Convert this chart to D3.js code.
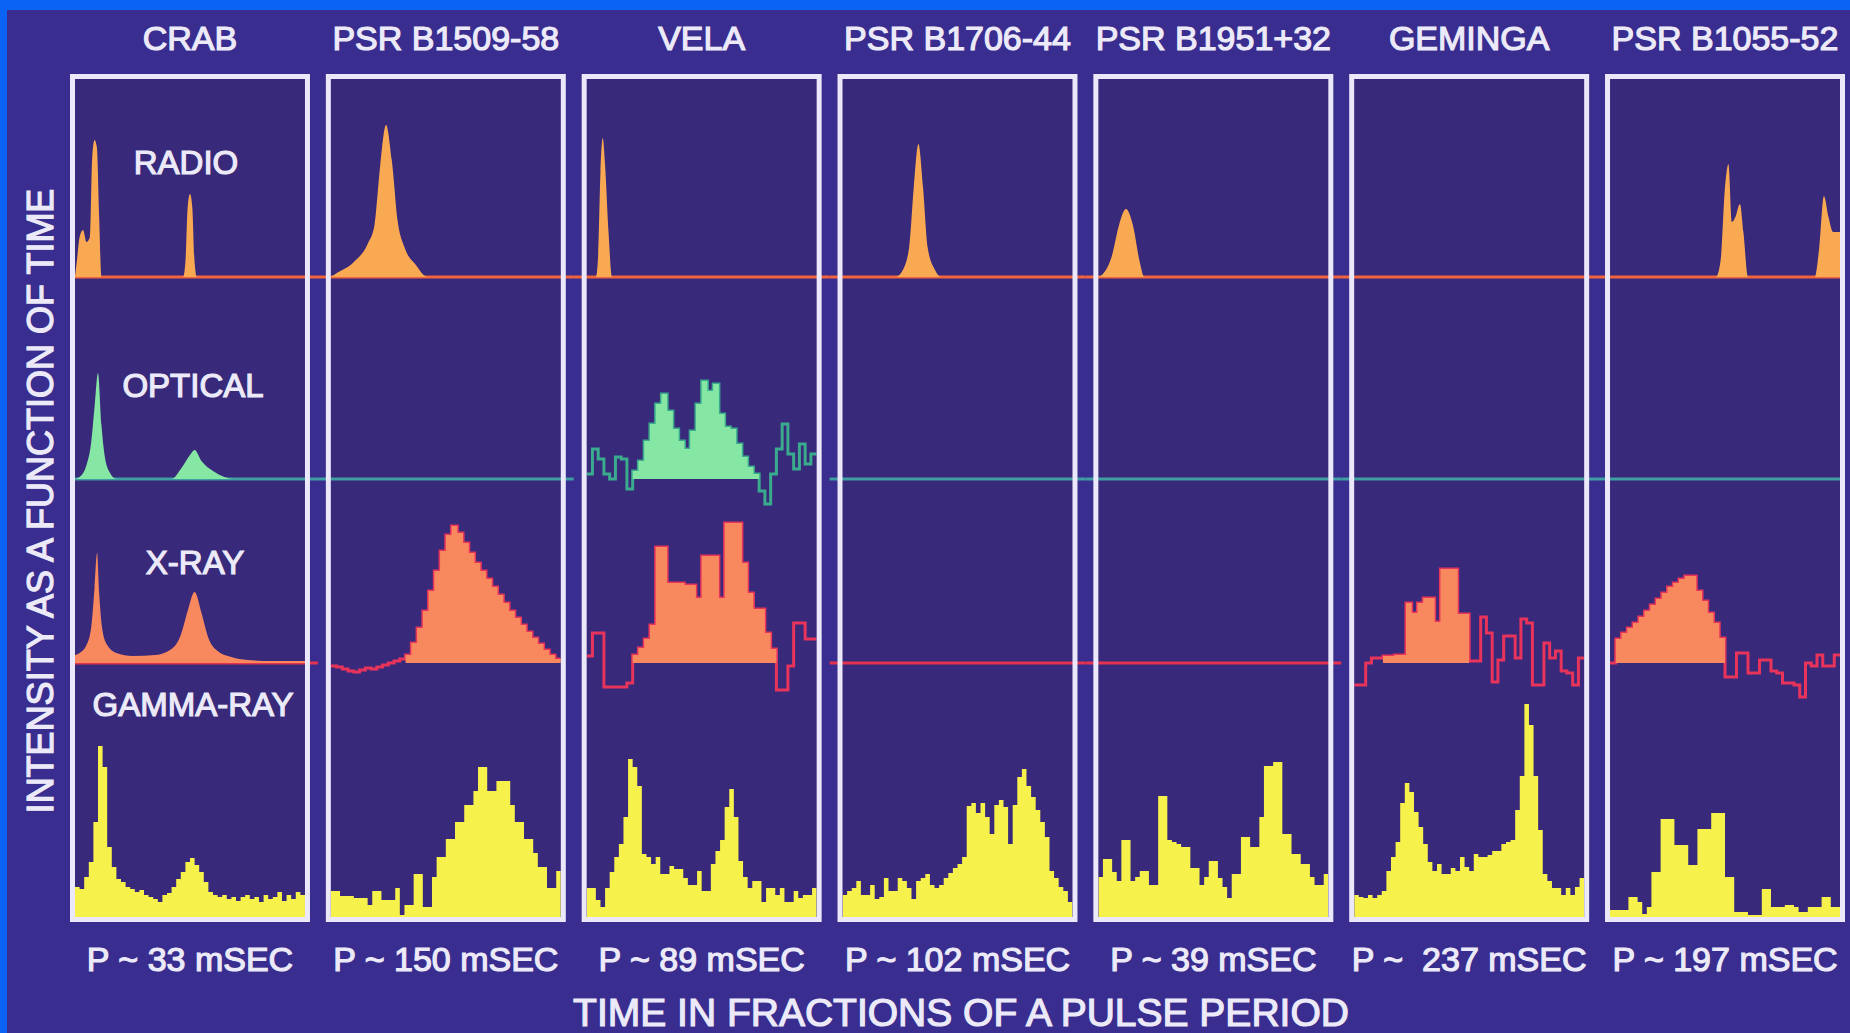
<!DOCTYPE html>
<html>
<head>
<meta charset="utf-8">
<script src="https://cdn.jsdelivr.net/npm/d3@7/dist/d3.min.js"></script>
<style>
  html, body { margin: 0; padding: 0; background: #392d8f; }
  svg { display: block; }
  text { font-family: "Liberation Sans", Arial, Helvetica, sans-serif; fill: #eceaf8; }
</style>
</head>
<body>
<svg id="chart" width="1850" height="1033"></svg>
<script>
// ---- data ----
const pulsars = ['CRAB', 'PSR B1509-58', 'VELA', 'PSR B1706-44', 'PSR B1951+32', 'GEMINGA', 'PSR B1055-52'];
const periods = ['P ~ 33 mSEC', 'P ~ 150 mSEC', 'P ~ 89 mSEC', 'P ~ 102 mSEC', 'P ~ 39 mSEC', 'P ~\u00a0 237 mSEC', 'P ~ 197 mSEC'];
const bandNames = ['RADIO', 'OPTICAL', 'X-RAY', 'GAMMA-RAY'];

// smooth light curves: [phase, intensity]
const radioCrab = [[0,0],[0.01,20],[0.02,40],[0.035,47],[0.05,35],[0.065,40],[0.075,120],[0.085,137],[0.095,130],[0.105,60],[0.115,0],[0.47,0],[0.48,15],[0.49,70],[0.5,83],[0.51,70],[0.52,15],[0.53,0],[1,0]];
const radioB1509 = [[0,0],[0.02,3],[0.1,15],[0.16,33],[0.19,52],[0.215,112],[0.24,152],[0.265,117],[0.29,57],[0.32,30],[0.37,12],[0.42,0],[1,0]];
const radioVela = [[0,0],[0.04,0],[0.05,22],[0.06,105],[0.07,139],[0.08,112],[0.095,45],[0.11,0],[1,0]];
const radioB1706 = [[0,0],[0.23,0],[0.26,6],[0.29,30],[0.31,90],[0.33,133],[0.35,90],[0.37,30],[0.4,8],[0.43,0],[1,0]];
const radioB1951 = [[0,0],[0.02,3],[0.06,22],[0.09,52],[0.12,68],[0.15,52],[0.18,15],[0.2,0],[1,0]];
const radioB1055 = [[0,0],[0.46,0],[0.48,15],[0.5,90],[0.515,113],[0.53,55],[0.545,60],[0.565,73],[0.58,45],[0.6,0],[0.89,0],[0.91,30],[0.93,81],[0.95,60],[0.97,45],[1,45]];
const opticalCrab = [[0,0],[0.02,2],[0.05,14],[0.07,36],[0.085,72],[0.1,106],[0.115,54],[0.13,22],[0.15,7],[0.18,0],[0.42,0],[0.46,10],[0.5,24],[0.52,29],[0.55,18],[0.6,8],[0.65,2],[0.69,0],[1,0]];
const xrayCrab = [[0,8],[0.02,10],[0.05,18],[0.07,35],[0.085,75],[0.096,110],[0.105,70],[0.12,32],[0.14,18],[0.18,10],[0.25,7],[0.35,8],[0.42,14],[0.46,28],[0.49,52],[0.52,71],[0.55,50],[0.58,25],[0.62,12],[0.68,6],[0.75,3],[0.85,2],[1,2]];

// binned light curves (equal phase bins)
const opticalVela = [5,30,20,5,0,22,20,-10,8,18,38,55,75,85,68,50,38,30,48,75,98,88,95,65,52,50,35,22,12,5,-12,-25,5,30,55,25,10,35,15,25];
const xrayB1509 = [-3,-4,-6,-8,-9,-7,-5,-6,-4,-2,0,2,4,8,20,35,52,72,92,112,128,137,130,120,110,100,92,84,76,68,60,52,45,38,31,25,19,13,8,4];
const xrayVela = [7,30,30,-24,-24,-24,-24,-20,8,15,24,38,116,116,80,80,80,78,78,65,107,107,107,65,140,140,140,100,70,54,54,30,14,-27,-27,-3,40,40,24,24];
const xrayGeminga = [-22,-22,0,5,5,7,7,8,8,60,50,60,65,65,41,94,94,94,49,49,2,2,46,30,-19,3,27,27,5,44,40,-22,-22,20,5,12,-8,-10,-22,5];
const xrayB1055 = [0,24,30,35,40,46,52,58,64,70,76,80,84,87,87,72,62,50,40,25,-14,-14,10,10,-10,-10,3,3,-8,-10,-20,-20,-22,-34,0,-3,8,-3,-3,8];
const gammaCrab = [30,28,40,55,95,171,150,70,50,38,35,30,28,25,27,22,20,18,15,22,24,30,38,45,55,59,52,45,35,25,22,20,22,18,20,16,20,22,18,20,15,22,18,20,25,16,22,18,25,22];
const gammaB1509 = [26,26,21,21,21,19,19,19,12,26,26,17,17,17,29,2,12,12,43,43,10,10,40,60,60,78,78,95,95,112,112,126,150,150,126,126,136,136,136,112,95,95,78,78,64,50,50,29,29,46];
const gammaVela = [29,29,17,10,29,45,60,73,100,158,150,131,63,60,53,60,43,43,51,48,48,39,32,32,46,26,26,53,66,77,110,128,100,56,40,29,36,36,15,29,29,22,29,15,15,26,19,22,22,29];
const gammaB1706 = [22,26,29,36,22,22,32,18,20,39,26,26,39,36,29,18,36,39,43,32,29,32,39,44,49,53,60,111,114,104,114,100,83,112,117,110,73,112,140,148,131,120,107,95,80,46,39,30,26,15];
const gammaB1951 = [40,58,58,45,36,77,77,36,40,46,46,32,32,121,121,77,75,73,70,70,49,49,32,40,56,56,39,30,19,43,43,80,80,70,70,100,151,151,155,155,83,83,63,63,53,53,40,32,32,43];
const gammaGeminga = [22,20,19,22,19,22,26,46,60,75,114,134,125,105,90,73,55,46,53,43,43,49,46,60,50,46,63,60,60,62,66,66,73,75,77,107,141,213,192,141,87,43,36,29,29,22,29,22,30,39];
const gammaB1055 = [7,7,7,7,20,20,15,3,10,45,45,98,98,98,72,72,72,52,52,88,88,88,104,104,104,40,40,5,5,5,2,2,2,28,28,10,10,10,12,12,10,5,5,10,10,10,20,20,10,10];

// which curve goes in which cell; `on` = bins drawn filled (the rest is outline only)
const profiles = {
  'CRAB':         [{ pts: radioCrab }, { pts: opticalCrab }, { pts: xrayCrab }, { bins: gammaCrab }],
  'PSR B1509-58': [{ pts: radioB1509 }, null, { bins: xrayB1509, on: [13, 39] }, { bins: gammaB1509 }],
  'VELA':         [{ pts: radioVela }, { bins: opticalVela, on: [8, 29] }, { bins: xrayVela, on: [8, 32] }, { bins: gammaVela }],
  'PSR B1706-44': [{ pts: radioB1706 }, null, null, { bins: gammaB1706 }],
  'PSR B1951+32': [{ pts: radioB1951 }, null, null, { bins: gammaB1951 }],
  'GEMINGA':      [null, null, { bins: xrayGeminga, on: [5, 19] }, { bins: gammaGeminga }],
  'PSR B1055-52': [{ pts: radioB1055 }, null, { bins: xrayB1055, on: [1, 19] }, { bins: gammaB1055 }]
};

// ---- layout ----
const W = 1850, H = 1033;
const panelTop = 74, panelBottom = 922, border = 5;
const rows = [
  { base: 277, fill: '#f9a951', line: '#f2643c', wiggle: '#f2643c', labelX: 186, labelY: 162 },
  { base: 479, fill: '#86e6a4', line: '#3f9ea2', wiggle: '#3aab8c', labelX: 193, labelY: 385 },
  { base: 663, fill: '#f8895f', line: '#e3334f', wiggle: '#e8345a', labelX: 195, labelY: 562 },
  { base: 917, fill: '#f6f14b', line: null, wiggle: null, labelX: 193, labelY: 704 }
];

const svg = d3.select('#chart');
svg.append('rect').attr('width', W).attr('height', H).attr('fill', '#392d8f');
svg.append('rect').attr('width', W).attr('height', 10).attr('fill', '#0a63f2');
svg.append('rect').attr('width', 7).attr('height', H).attr('fill', '#0a63f2');

const band = d3.scaleBand().domain(pulsars).range([70, 1845]).paddingInner(0.062).paddingOuter(0);
const pw = band.bandwidth();
const gap = band.step() - pw;
rows.forEach(r => { r.y = d3.scaleLinear().domain([0, 100]).range([r.base, r.base - 100]); });

const defs = svg.append('defs');
pulsars.forEach((p, i) => {
  defs.append('clipPath').attr('id', 'clip' + i).append('rect')
    .attr('x', band(p) + border).attr('y', panelTop + border)
    .attr('width', pw - 2 * border).attr('height', panelBottom - panelTop - 2 * border);
});

// panel interiors
svg.append('g').selectAll('rect').data(pulsars).join('rect')
  .attr('x', d => band(d)).attr('y', panelTop)
  .attr('width', pw).attr('height', panelBottom - panelTop)
  .attr('fill', '#38297a');

// flat baselines (for cells without an outline curve), joined across the gaps
const baseG = svg.append('g');
pulsars.forEach((p, i) => {
  profiles[p].forEach((prof, k) => {
    const r = rows[k];
    if (!r.line || (prof && prof.bins)) return;
    const x0 = i === 0 ? band(p) + border : band(p) - gap / 2;
    const x1 = i === pulsars.length - 1 ? band(p) + pw - border : band(p) + pw + gap / 2;
    baseG.append('line')
      .attr('x1', x0).attr('x2', x1).attr('y1', r.y(0)).attr('y2', r.y(0))
      .attr('stroke', r.line).attr('stroke-width', 3);
  });
});

// curves
pulsars.forEach((p, i) => {
  const x = d3.scaleLinear().domain([0, 1]).range([band(p) + border, band(p) + pw - border]);
  const g = svg.append('g').attr('clip-path', `url(#clip${i})`);
  profiles[p].forEach((prof, k) => {
    if (!prof) return;
    const r = rows[k];
    if (prof.pts) {
      const area = d3.area().curve(d3.curveMonotoneX)
        .x(d => x(d[0])).y0(r.y(0)).y1(d => r.y(d[1]));
      g.append('path').datum(prof.pts).attr('d', area).attr('fill', r.fill);
      return;
    }
    const n = prof.bins.length;
    const steps = prof.bins.map((v, j) => [j / n, v]).concat([[1, prof.bins[n - 1]]]);
    const area = d3.area().curve(d3.curveStepAfter)
      .x(d => x(d[0])).y0(r.y(0)).y1(d => r.y(d[1]));
    if (prof.on) {
      const line = d3.line().curve(d3.curveStepAfter).x(d => x(d[0])).y(d => r.y(d[1]));
      g.append('path').datum(steps).attr('d', line)
        .attr('fill', 'none').attr('stroke', r.wiggle).attr('stroke-width', 3);
      const [a, b] = prof.on;
      const seg = steps.slice(a, b + 1).concat([[(b + 1) / n, prof.bins[b]]]);
      g.append('path').datum(seg).attr('d', area).attr('fill', r.fill);
    } else {
      g.append('path').datum(steps).attr('d', area).attr('fill', r.fill);
    }
  });
});

// panel borders
svg.append('g').selectAll('rect').data(pulsars).join('rect')
  .attr('x', d => band(d) + border / 2).attr('y', panelTop + border / 2)
  .attr('width', pw - border).attr('height', panelBottom - panelTop - border)
  .attr('fill', 'none').attr('stroke', '#ebe8fb').attr('stroke-width', border);

// text
const label = (sel, size) => sel.attr('font-size', size + 'px')
  .attr('text-anchor', 'middle').attr('dominant-baseline', 'central')
  .attr('stroke', '#eceaf8').attr('stroke-width', 1.2);

svg.append('g').selectAll('text').data(pulsars).join('text')
  .attr('x', d => band(d) + pw / 2).attr('y', 38).text(d => d)
  .call(label, 34);

svg.append('g').selectAll('text').data(periods).join('text')
  .attr('x', (d, i) => band(pulsars[i]) + pw / 2).attr('y', 959)
  .text(d => d)
  .call(label, 34);

svg.append('g').selectAll('text').data(bandNames).join('text')
  .attr('x', (d, i) => rows[i].labelX).attr('y', (d, i) => rows[i].labelY).text(d => d)
  .call(label, 33);

svg.append('text').attr('x', 961).attr('y', 1012)
  .text('TIME IN FRACTIONS OF A PULSE PERIOD').call(label, 39);

svg.append('text').attr('transform', 'translate(40,501) rotate(-90)')
  .text('INTENSITY AS A FUNCTION OF TIME').call(label, 36);
</script>
</body>
</html>
